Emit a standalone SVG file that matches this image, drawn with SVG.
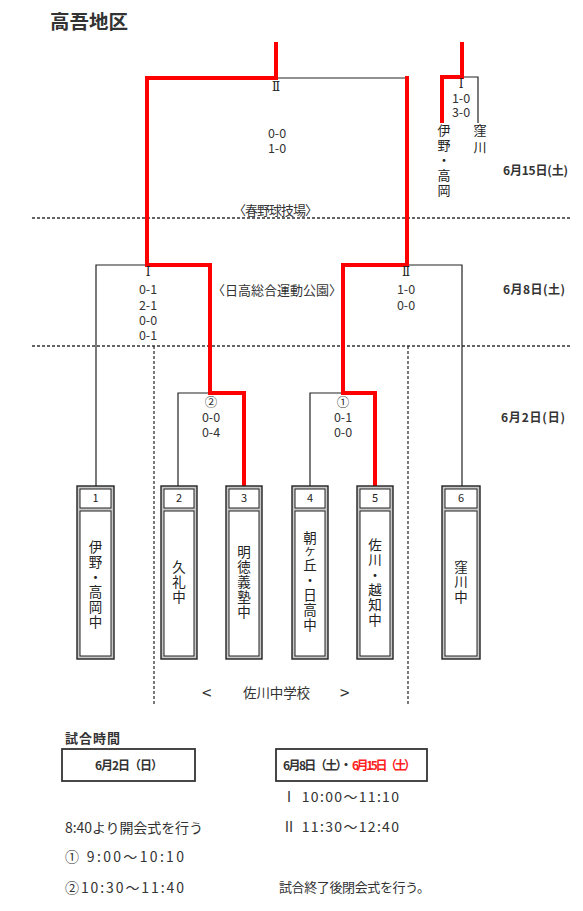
<svg xmlns="http://www.w3.org/2000/svg" width="583" height="911" viewBox="0 0 583 911">
<style>
text{font-family:"Noto Sans CJK JP","Noto Sans",sans-serif;fill:#333}
.sc{font-size:12.5px;text-anchor:middle}
.rn{font-family:"DejaVu Serif","Noto Sans CJK JP",serif;font-size:12px;text-anchor:middle;fill:#222}
.num{font-size:11px;text-anchor:middle;fill:#222}
.vt{font-size:13.5px;writing-mode:vertical-rl;letter-spacing:1.5px;fill:#222}
.dt{font-size:12px;font-weight:bold}
.blk{stroke:#222;stroke-width:1.2;fill:none}
.red{stroke:#ff0000;stroke-width:4;fill:none;stroke-linecap:square}
.dash{stroke:#333;stroke-width:1.3;stroke-dasharray:3 2;fill:none}
.bo{fill:#c8c8c8;stroke:#222;stroke-width:1.4}
.bi{fill:#fff;stroke:#222;stroke-width:1}
</style>
<rect width="583" height="911" fill="#fff"/>
<text x="50" y="29" font-size="19.5" font-weight="bold">高吾地区</text>

<g id="grid">
<line class="dash" x1="32" y1="218" x2="572" y2="218"/>
<line class="dash" x1="32" y1="346" x2="572" y2="346"/>
<line class="dash" x1="154" y1="346" x2="154" y2="706"/>
<line class="dash" x1="408" y1="346" x2="408" y2="706"/>
</g>

<g id="connectors">
<polyline class="blk" points="276,78 407,78"/>
<polyline class="blk" points="147,265 96,265 96,487"/>
<polyline class="blk" points="210,393 178,393 178,487"/>
<polyline class="blk" points="407,265 462,265 462,487"/>
<polyline class="blk" points="343,393 310,393 310,487"/>
<polyline class="blk" points="462,77 478,77 478,123"/>
<polyline class="red" points="276,44 276,78 147,78 147,265 210,265 210,393 244,393 244,485"/>
<polyline class="red" points="407,78 407,265 343,265 343,393 375,393 375,485"/>
<polyline class="red" points="462,44 462,77 442,77 442,121"/>
</g>

<g id="labels">
<text class="rn" x="276" y="91">Ⅱ</text>
<text class="sc" x="277" y="138">0-0</text>
<text class="sc" x="277" y="153">1-0</text>
<text class="rn" x="148" y="276">Ⅰ</text>
<text class="sc" x="148" y="294">0-1</text>
<text class="sc" x="148" y="310">2-1</text>
<text class="sc" x="148" y="325">0-0</text>
<text class="sc" x="148" y="340">0-1</text>
<text class="rn" x="406" y="276">Ⅱ</text>
<text class="sc" x="406" y="294">1-0</text>
<text class="sc" x="406" y="310">0-0</text>
<text class="sc" x="211" y="407">②</text>
<text class="sc" x="211" y="422">0-0</text>
<text class="sc" x="211" y="437">0-4</text>
<text class="sc" x="343" y="407">①</text>
<text class="sc" x="343" y="422">0-1</text>
<text class="sc" x="343" y="437">0-0</text>
<text class="rn" x="461" y="88">Ⅰ</text>
<text class="sc" x="461" y="103">1-0</text>
<text class="sc" x="461" y="117">3-0</text>
<text class="vt" x="444" y="124" style="font-size:13px;letter-spacing:2px">伊野・高岡</text>
<text class="vt" x="480" y="124" style="font-size:13px;letter-spacing:3.5px">窪川</text>
<text x="233" y="215" font-size="13" textLength="85">〈春野球技場〉</text>
<text x="212" y="295" font-size="13" textLength="130">〈日高総合運動公園〉</text>
<text class="dt" x="503" y="175" textLength="65">6月15日(土)</text>
<text class="dt" x="503" y="294" textLength="62">6月8日(土)</text>
<text class="dt" x="501" y="422" textLength="64">6月2日(日)</text>
</g>

<g id="team1">
<rect class="bo" x="77" y="486" width="37" height="173"/>
<rect class="bi" x="80" y="489" width="31" height="19"/>
<rect class="bi" x="80" y="511" width="31" height="145"/>
<text class="num" x="95.5" y="502">1</text>
<text class="vt" x="95.5" y="540">伊野・高岡中</text>
</g>
<g id="team2">
<rect class="bo" x="161" y="486" width="36" height="173"/>
<rect class="bi" x="164" y="489" width="30" height="19"/>
<rect class="bi" x="164" y="511" width="30" height="145"/>
<text class="num" x="179" y="502">2</text>
<text class="vt" x="179" y="560">久礼中</text>
</g>
<g id="team3">
<rect class="bo" x="226" y="486" width="36" height="173"/>
<rect class="bi" x="229" y="489" width="30" height="19"/>
<rect class="bi" x="229" y="511" width="30" height="145"/>
<text class="num" x="244" y="502">3</text>
<text class="vt" x="244" y="545">明徳義塾中</text>
</g>
<g id="team4">
<rect class="bo" x="292" y="486" width="36" height="173"/>
<rect class="bi" x="295" y="489" width="30" height="19"/>
<rect class="bi" x="295" y="511" width="30" height="145"/>
<text class="num" x="310" y="502">4</text>
<text class="vt" x="310" y="531">朝<tspan style="font-size:11px">ケ</tspan>丘・日高中</text>
</g>
<g id="team5">
<rect class="bo" x="357" y="486" width="36" height="173"/>
<rect class="bi" x="360" y="489" width="30" height="19"/>
<rect class="bi" x="360" y="511" width="30" height="145"/>
<text class="num" x="375" y="502">5</text>
<text class="vt" x="375" y="538">佐川・越知中</text>
</g>
<g id="team6">
<rect class="bo" x="442" y="486" width="38" height="173"/>
<rect class="bi" x="445" y="489" width="32" height="19"/>
<rect class="bi" x="445" y="511" width="32" height="145"/>
<text class="num" x="461" y="502">6</text>
<text class="vt" x="461" y="560">窪川中</text>
</g>

<g id="venue">
<text x="202" y="699" font-size="17">&lt;</text>
<text x="243" y="698" font-size="13.5" textLength="67">佐川中学校</text>
<text x="340" y="699" font-size="17">&gt;</text>
</g>

<g id="schedule">
<text x="65" y="743" font-size="13" font-weight="bold" textLength="55">試合時間</text>
<rect x="62" y="749" width="133" height="32" fill="none" stroke="#333" stroke-width="1.8"/>
<text class="dt" x="95" y="770" textLength="68">6月2日（日）</text>
<rect x="276" y="749" width="151" height="32" fill="none" stroke="#333" stroke-width="1.8"/>
<text class="dt" x="283" y="770" font-size="11.5" textLength="69">6月8日（土）・</text>
<text class="dt" x="352" y="770" font-size="11.5" textLength="64" style="fill:#ff2020">6月15日（土）</text>
<text x="282" y="802" font-size="14" textLength="117">Ⅰ 10:00～11:10</text>
<text x="282" y="832" font-size="14" textLength="117">Ⅱ 11:30～12:40</text>
<text x="279" y="892" font-size="13" textLength="151">試合終了後閉会式を行う。</text>
<text x="65" y="833" font-size="14" textLength="138">8:40より開会式を行う</text>
<text x="65" y="862" font-size="14" textLength="119">①  9:00～10:10</text>
<text x="65" y="893" font-size="14" textLength="119">②10:30～11:40</text>
</g>
</svg>
